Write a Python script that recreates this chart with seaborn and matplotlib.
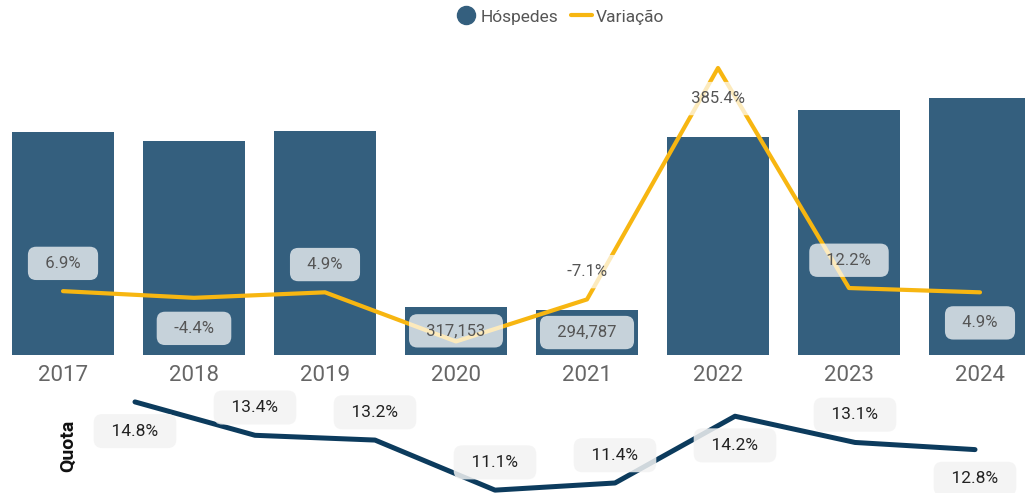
import numpy as np
import pandas as pd
import matplotlib
matplotlib.use("Agg")
import matplotlib.pyplot as plt
import seaborn as sns
from matplotlib.lines import Line2D

# ---- data -------------------------------------------------------------
anos = ["2017", "2018", "2019", "2020", "2021", "2022", "2023", "2024"]
hospedes = [1465900, 1401400, 1470100, 317153, 294787, 1430900, 1605500, 1684200]
variacao = [6.9, -4.4, 4.9, -78.4, -7.1, 385.4, 12.2, 4.9]
quota = [14.8, 13.4, 13.2, 11.1, 11.4, 14.2, 13.1, 12.8]

# which labels are drawn and where (up = above the point, down = below)
rotulo_barra = [False, False, False, True, True, False, False, False]
pos_variacao = ["up", "down", "up", None, "up", "down", "up", "down"]
pos_quota = ["down", "up", "up", "up", "up", "down", "up", "down"]

# ---- style ------------------------------------------------------------
COR_BARRA = "#345F7E"
COR_VAR = "#F7B611"
COR_QUOTA = "#0C3B5D"
COR_EIXO = "#666666"

sns.set_theme(style="white")
plt.rcParams["font.family"] = ["Roboto", "DejaVu Sans"]

W, H = 1025, 493
fig = plt.figure(figsize=(W / 100, H / 100), dpi=100)

# ---- top panel: guests (bars) + year-on-year change (line) -------------
ax = fig.add_axes([0, 1 - 355 / H, 1, 315 / H])
df = pd.DataFrame({"Ano": anos, "Hóspedes": hospedes, "Variação": variacao})
sns.barplot(data=df, x="Ano", y="Hóspedes", color=COR_BARRA, width=0.78,
            saturation=1, linewidth=0, ax=ax)
ax.set_xlim(-63 / 131, (W - 63) / 131)
ax.set_ylim(0, 2_067_000)
ax.set_xlabel("")
ax.set_ylabel("")
ax.set_yticks([])
ax.tick_params(axis="x", length=0, labelsize=16, labelcolor=COR_EIXO, pad=7)
for s in ax.spines.values():
    s.set_visible(False)

ax2 = ax.twinx()
sns.lineplot(x=np.arange(len(anos)), y=variacao, color=COR_VAR, linewidth=3,
             ax=ax2)
ax2.set_ylim(-101.4, 432.9)
ax2.set_yticks([])
ax2.set_ylabel("")
for s in ax2.spines.values():
    s.set_visible(False)

caixa_topo = dict(boxstyle="round,pad=0.55,rounding_size=0.5",
                  facecolor="white", alpha=0.72, edgecolor="none")

# bar value labels, centred inside the bar
for i, (h, mostrar) in enumerate(zip(hospedes, rotulo_barra)):
    if mostrar:
        ax2.annotate(f"  {h:,}  ", xy=(i, h / 2), xycoords=ax.transData,
                     ha="center", va="center", fontsize=12, color="#555555",
                     bbox=caixa_topo, zorder=5)

# change labels
for i, (v, p) in enumerate(zip(variacao, pos_variacao)):
    if p is None:
        continue
    dy = 20 if p == "up" else -22
    ax2.annotate(f"  {v:.1f}%  ", xy=(i, v), xytext=(0, dy),
                 textcoords="offset points", ha="center", va="center",
                 fontsize=12, color="#555555", bbox=caixa_topo, zorder=5)

# ---- bottom panel: share ----------------------------------------------
axq = fig.add_axes([0, 0, 1, 103 / H])
sns.lineplot(x=np.arange(len(anos)), y=quota, color=COR_QUOTA, linewidth=3.6,
             ax=axq)
for ln in axq.lines:
    ln.set_solid_capstyle("round")
axq.set_xlim(-135 / 120, (W - 135) / 120)
axq.set_ylim(10.98, 15.30)
axq.set_xticks([])
axq.set_yticks([])
axq.set_xlabel("")
axq.set_ylabel("")
axq.patch.set_alpha(0)
for s in axq.spines.values():
    s.set_visible(False)

caixa_quota = dict(boxstyle="round,pad=0.55,rounding_size=0.5",
                   facecolor="#F3F3F3", alpha=0.85, edgecolor="none")
for i, (q, p) in enumerate(zip(quota, pos_quota)):
    dy = 20 if p == "up" else -21
    axq.annotate(f"  {q:.1f}%  ", xy=(i, q), xytext=(0, dy),
                 textcoords="offset points", ha="center", va="center",
                 fontsize=12.5, color="#222222", bbox=caixa_quota, zorder=5,
                 annotation_clip=False)

fig.text(68 / W, 1 - 446 / H, "Quota", rotation=90, ha="center", va="center",
         fontsize=14, fontweight="bold", color="#111111")

# ---- legend -----------------------------------------------------------
handles = [
    Line2D([], [], marker="o", linestyle="none", markersize=13,
           markerfacecolor=COR_BARRA, markeredgecolor=COR_BARRA),
    Line2D([], [], color=COR_VAR, linewidth=3),
]
fig.legend(handles, ["Hóspedes", "Variação"], loc="center",
           bbox_to_anchor=(560 / W, 1 - 17 / H), ncol=2, frameon=False,
           fontsize=12.5, labelcolor="#555555", handlelength=1.2,
           handletextpad=0.25, columnspacing=0.7)

fig.savefig("out.png", dpi=100)
